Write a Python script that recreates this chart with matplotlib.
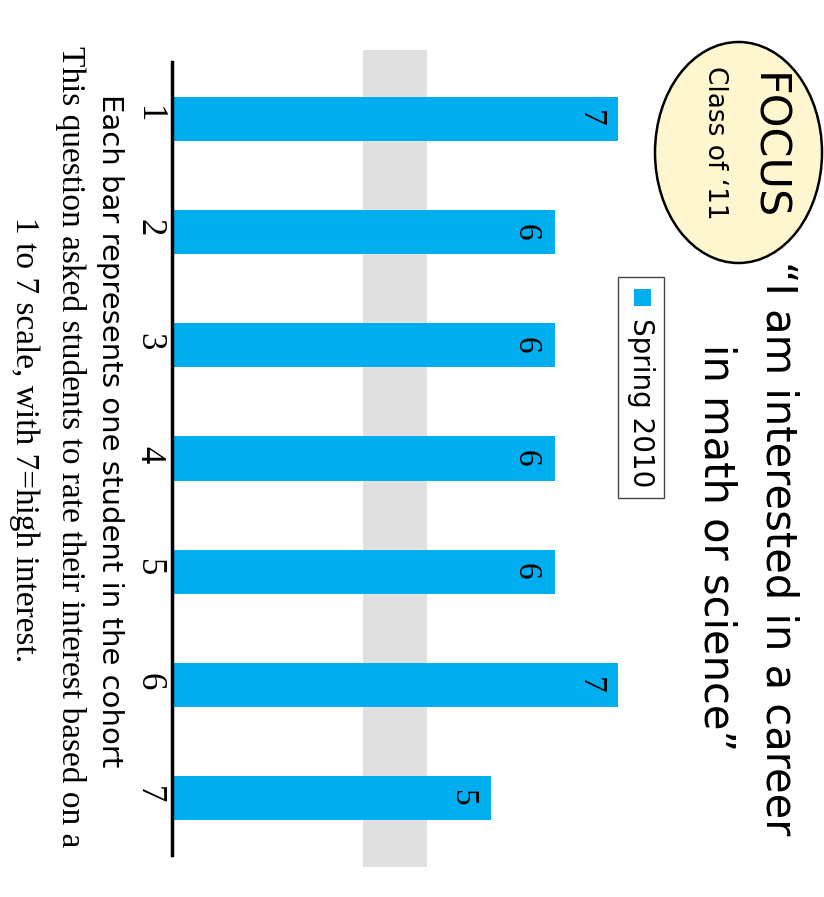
import matplotlib.pyplot as plt
from matplotlib.patches import Ellipse, Rectangle

students = [1, 2, 3, 4, 5, 6, 7]
ratings = [7, 6, 6, 6, 6, 7, 5]
series_name = "Spring 2010"
title_lines = ["\u201cI am interested in a career", "in math or science\u201d"]
badge = ["FOCUS", "Class of \u201811"]
note = "Each bar represents one student in the cohort"
footer = ["This question asked students to rate their interest based on a",
          "1 to 7 scale, with 7=high interest."]

bar_color = "#00AEEF"
sans = ["DejaVu Sans"]
serif = ["Liberation Serif", "DejaVu Serif"]

fig = plt.figure(figsize=(8.24, 8.97), dpi=100)
W, H = 824, 897


def fx(px):
    return px / W


def fy(py):
    return 1 - py / H


# chart area (slide is rotated a quarter turn clockwise)
ax = fig.add_axes([fx(172), fy(855), fx(682) - fx(172), fy(62) - fy(855)])
ax.axvspan(3, 4, ymin=-0.015, ymax=1.015, color="#E0E0E0", lw=0, clip_on=False, zorder=0)
ax.barh(students, ratings, height=0.39, color=bar_color, zorder=2)
for s, r in zip(students, ratings):
    ax.text(r - 0.45, s, str(r), rotation=-90, ha="center", va="center",
            fontsize=24, family=serif, zorder=3)
ax.set_xlim(0, 8)
ax.set_ylim(7.5, 0.5)
ax.set_yticks(students)
ax.set_yticklabels([str(s) for s in students], rotation=-90, family=serif, fontsize=25)
ax.tick_params(axis="y", length=0, pad=5)
ax.set_xticks([])
for side in ["top", "right", "bottom"]:
    ax.spines[side].set_visible(False)
ax.spines["left"].set_linewidth(2.5)
ax.patch.set_alpha(0)

# title
fig.text(fx(778), fy(548), title_lines[0], rotation=-90, ha="center", va="center",
         fontsize=30, family=sans)
fig.text(fx(716), fy(548), title_lines[1], rotation=-90, ha="center", va="center",
         fontsize=30, family=sans)

# badge
fig.patches.append(Ellipse((fx(738.5), fy(152.5)), fx(167), 221 / H, transform=fig.transFigure,
                           facecolor="#FDF6CF", edgecolor="black", lw=1.8))
fig.text(fx(767), fy(147), badge[0], rotation=-90, ha="center", va="center",
         fontsize=31, family=sans)
fig.text(fx(715), fy(143), badge[1], rotation=-90, ha="center", va="center",
         fontsize=19, family=sans)

# legend
fig.patches.append(Rectangle((fx(618), fy(498)), fx(46), 221 / H, transform=fig.transFigure,
                             facecolor="white", edgecolor="#444444", lw=1))
fig.patches.append(Rectangle((fx(634), fy(306)), fx(17), 17 / H, transform=fig.transFigure,
                             facecolor=bar_color, edgecolor="none"))
fig.text(fx(641), fy(403), series_name, rotation=-90, ha="center", va="center",
         fontsize=20, family=sans)

# notes
fig.text(fx(110), fy(431), note, rotation=-90, ha="center", va="center",
         fontsize=21, family=sans)
fig.text(fx(70), fy(447), footer[0], rotation=-90, ha="center", va="center",
         fontsize=24, family=serif)
fig.text(fx(24), fy(440), footer[1], rotation=-90, ha="center", va="center",
         fontsize=24, family=serif)

fig.savefig("out.png", dpi=100)
